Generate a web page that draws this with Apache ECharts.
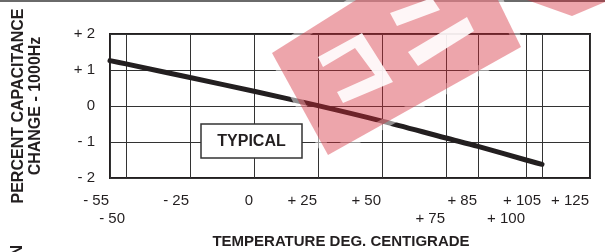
<!DOCTYPE html>
<html><head><meta charset="utf-8">
<script src="https://cdn.jsdelivr.net/npm/echarts@6/dist/echarts.min.js"></script>
<style>html,body{margin:0;padding:0;background:#fff}#c{width:605px;height:252px}</style>
</head><body><div id="c"></div>
<script>
// ---- data ----
const temperatures = [-55, -50, -25, 0, 25, 50, 75, 85, 100, 105];
const capacitanceChange = [1.26, 1.17, 0.79, 0.41, 0.01, -0.42, -0.89, -1.12, -1.50, -1.62];
const xTickTemps = [-55, -50, -25, 0, 25, 50, 75, 85, 100, 105, 125];
const xTickLabels = ['- 55', '- 50', '- 25', '0', '+ 25', '+ 50', '+ 75', '+ 85', '+ 100', '+ 105', '+ 125'];
const xLowerRowLabels = ['- 50', '+ 75', '+ 100'];
const yTickValues = [-2, -1, 0, 1, 2];
const yTickLabels = ['- 2', '- 1', '0', '+ 1', '+ 2'];

// The original temperature axis is non-uniform: units of axis length for each tick temperature.
const xAxisUnits = [0, 1, 5, 9, 13, 17, 21, 23, 26, 27, 30];
function tempToAxis(t) {
  for (let i = 0; i < xTickTemps.length - 1; i++) {
    const a = xTickTemps[i], b = xTickTemps[i + 1];
    if (t >= a && t <= b) return xAxisUnits[i] + (t - a) / (b - a) * (xAxisUnits[i + 1] - xAxisUnits[i]);
  }
  return t < xTickTemps[0] ? xAxisUnits[0] : xAxisUnits[xAxisUnits.length - 1];
}
function labelAt(v) {
  let idx = -1, best = 1e9;
  xTickTemps.forEach((t, i) => { const d = Math.abs(tempToAxis(t) - v); if (d < best) { best = d; idx = i; } });
  return xTickLabels[idx];
}
const upperTicks = xTickTemps.filter((t, i) => xLowerRowLabels.indexOf(xTickLabels[i]) < 0).map(tempToAxis);
const lowerTicks = xTickTemps.filter((t, i) => xLowerRowLabels.indexOf(xTickLabels[i]) >= 0).map(tempToAxis);

const FONT = '"Liberation Sans", Arial, Helvetica, sans-serif';
const INK = '#231f20';
const WHITE = 'rgba(255,255,255,0.9)';
const xMin = tempToAxis(xTickTemps[0]), xMax = tempToAxis(xTickTemps[xTickTemps.length - 1]);
const labelStyle = { fontFamily: FONT, fontSize: 15, color: INK, lineHeight: 18, align: 'right', padding: [0, 1, 0, 0],
  showMinLabel: true, showMaxLabel: true, hideOverlap: false, formatter: labelAt };

const chart = echarts.init(document.getElementById('c'), null, { renderer: 'canvas' });
chart.setOption({
  animation: false,
  backgroundColor: '#fff',
  grid: { left: 110, right: 15, top: 34, bottom: 74, show: true, borderColor: INK, borderWidth: 2, backgroundColor: 'transparent' },
  xAxis: [{
    type: 'value', min: xMin, max: xMax, position: 'bottom',
    axisLine: { show: false },
    axisTick: { show: false, customValues: xTickTemps.map(tempToAxis) },
    splitLine: { show: true, lineStyle: { color: '#333', width: 1 } },
    axisLabel: Object.assign({ customValues: upperTicks, margin: 14 }, labelStyle)
  }, {
    type: 'value', min: xMin, max: xMax, position: 'bottom', offset: 0,
    axisLine: { show: false },
    axisTick: { show: false, customValues: lowerTicks },
    splitLine: { show: false },
    axisLabel: Object.assign({ customValues: lowerTicks, margin: 32 }, labelStyle)
  }],
  yAxis: {
    type: 'value', min: yTickValues[0], max: yTickValues[yTickValues.length - 1], interval: 1,
    axisLine: { show: false }, axisTick: { show: false },
    splitLine: { show: true, lineStyle: { color: '#333', width: 1 } },
    axisLabel: {
      margin: 15, fontFamily: FONT, fontSize: 15, color: INK,
      formatter: v => yTickLabels[yTickValues.indexOf(v)]
    }
  },
  series: [{
    type: 'line', smooth: 0.3, symbol: 'none', z: 5, xAxisIndex: 0,
    lineStyle: { color: INK, width: 5, cap: 'round' },
    data: temperatures.map((t, i) => [tempToAxis(t), capacitanceChange[i]])
  }],
  graphic: [
    { type: 'rect', z: 1, shape: { x: 0, y: 0, width: 605, height: 2 }, style: { fill: '#6a6a6a' } },
    {
      type: 'text', z: 10, x: 27, y: 106, rotation: Math.PI / 2,
      style: { text: 'PERCENT CAPACITANCE\nCHANGE - 1000Hz', align: 'center', verticalAlign: 'middle',
        font: 'bold 16px ' + FONT, lineHeight: 17, fill: INK }
    },
    {
      type: 'text', z: 10, x: 18, y: 245, rotation: Math.PI / 2,
      style: { text: 'N', align: 'right', verticalAlign: 'middle', font: 'bold 16px ' + FONT, fill: INK }
    },
    {
      type: 'text', z: 10, x: 341, y: 242,
      style: { text: 'TEMPERATURE DEG. CENTIGRADE', align: 'center', verticalAlign: 'middle',
        font: 'bold 15px ' + FONT, fill: INK }
    },
    {
      type: 'group', z: 10, children: [
        { type: 'rect', z: 10, shape: { x: 201, y: 124, width: 101, height: 34 }, style: { fill: '#fff', stroke: '#333', lineWidth: 1.5 } },
        { type: 'text', z: 11, x: 251.5, y: 141.5, style: { text: 'TYPICAL', align: 'center', verticalAlign: 'middle', font: 'bold 16px ' + FONT, fill: INK } }
      ]
    },
    {
      type: 'group', z: 100, silent: true, children: [
        { type: 'polygon', z: 100, shape: { points: [[272,53],[356,0],[498,0],[521,47],[328,155]] },
          style: { fill: 'none', stroke: 'rgba(255,255,255,0.5)', lineWidth: 10, lineJoin: 'round' } },
        { type: 'polygon', z: 101, shape: { points: [[272,53],[356,0],[498,0],[521,47],[328,155]] },
          style: { fill: 'rgba(212,40,56,0.42)' } },
        { type: 'polygon', z: 101, shape: { points: [[527,0],[605,0],[605,2],[572,16]] },
          style: { fill: 'rgba(212,40,56,0.42)' } },
        { type: 'polygon', z: 102, shape: { points: [[318,57],[362,33],[393,82],[343,103],[337,92],[375,75],[355,48],[323,67]] }, style: { fill: WHITE } },
        { type: 'polygon', z: 102, shape: { points: [[390,13],[432,-2],[440,10],[397,26]] }, style: { fill: WHITE } },
        { type: 'polygon', z: 102, shape: { points: [[408,52],[467,17],[474,31],[418,66]] }, style: { fill: WHITE } }
      ]
    }
  ]
});
</script>
</body></html>
